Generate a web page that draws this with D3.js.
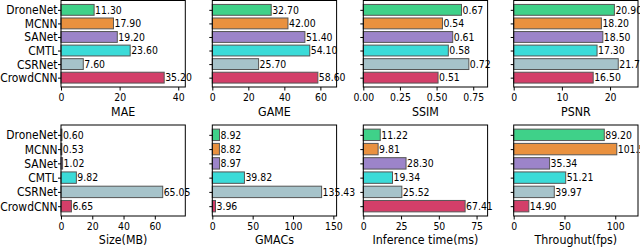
<!DOCTYPE html>
<html>
<head>
<meta charset="utf-8">
<script src="https://cdn.jsdelivr.net/npm/d3@7"></script>
<style>
  body { margin: 0; background: #fff; }
  svg text { font-family: "DejaVu Sans", sans-serif; fill: #000; }
</style>
</head>
<body>
<div id="chart"></div>
<script>
// models, top to bottom
var models = ["DroneNet", "MCNN", "SANet", "CMTL", "CSRNet", "CrowdCNN"]
var colors = ["#3fd189", "#e9913f", "#9c84c9", "#3bdbd8", "#a6c3ca", "#d33f69"]

// one array per metric
var mae = [11.30, 17.90, 19.20, 23.60, 7.60, 35.20]
var game = [32.70, 42.00, 51.40, 54.10, 25.70, 58.60]
var ssim = [0.67, 0.54, 0.61, 0.58, 0.72, 0.51]
var psnr = [20.90, 18.20, 18.50, 17.30, 21.70, 16.50]
var sizeMB = [0.60, 0.53, 1.02, 9.82, 65.05, 6.65]
var gmacs = [8.92, 8.82, 8.97, 39.82, 135.43, 3.96]
var infTime = [11.22, 9.81, 28.30, 19.34, 25.52, 67.41]
var throughput = [89.20, 101.50, 35.34, 51.21, 39.97, 14.90]

var titles = ["MAE", "GAME", "SSIM", "PSNR", "Size(MB)", "GMACs", "Inference time(ms)", "Throughut(fps)"]
var xMax = [42.4, 69, 0.848, 25.8, 79.5, 154, 82.3, 122.4]
var ticks = [[0, 20, 40], [0, 20, 40, 60], [0, 0.25, 0.5, 0.75], [0, 10, 20],
             [0, 20, 40, 60], [0, 50, 100, 150], [0, 25, 50, 75], [0, 50, 100]]
var tickFmt = [d3.format("d"), d3.format("d"), d3.format(".2f"), d3.format("d"),
               d3.format("d"), d3.format("d"), d3.format("d"), d3.format("d")]

var series = [mae, game, ssim, psnr, sizeMB, gmacs, infTime, throughput]

var width = 640, height = 247
var lefts = [61, 212.3, 363.3, 513.7]
var panelW = 124.3
var rows = [{top: 0.5, bottom: 87}, {top: 125, bottom: 216}]

// the original figure is squeezed horizontally, so text is too
var sx = 0.88
function squash(sel) {
  sel.attr("transform", "scale(" + sx + ",1)")
     .attr("x", function() { return (+d3.select(this).attr("x") || 0) / sx })
}

var svg = d3.select("#chart").append("svg")
    .attr("width", width)
    .attr("height", height)

series.forEach(function(vals, i) {
  var col = i % 4, row = Math.floor(i / 4)
  var x0 = lefts[col], y0 = rows[row].top, h = rows[row].bottom - rows[row].top

  var x = d3.scaleLinear().domain([0, xMax[i]]).range([0, panelW])
  // matplotlib-like padding: bars at integer positions, height 0.8
  var y = d3.scaleLinear().domain([-0.69, 5.69]).range([0, h])

  var g = svg.append("g").attr("transform", "translate(" + x0 + "," + y0 + ")")

  g.selectAll("rect.bar")
    .data(vals)
    .enter()
    .append("rect")
      .attr("class", "bar")
      .attr("x", x(0))
      .attr("y", function(d, j) { return y(j - 0.4) })
      .attr("width", function(d) { return x(d) - x(0) })
      .attr("height", y(0.4) - y(-0.4))
      .attr("fill", function(d, j) { return colors[j] })
      .attr("stroke", "#555")
      .attr("stroke-width", 1)

  g.selectAll("text.val")
    .data(vals)
    .enter()
    .append("text")
      .attr("class", "val")
      .attr("x", function(d) { return x(d) + 1 })
      .attr("y", function(d, j) { return y(j) })
      .attr("dy", "0.36em")
      .style("font-size", "10.6px")
      .text(function(d) { return d.toFixed(2) })
      .call(squash)

  // frame
  g.append("rect")
    .attr("width", panelW)
    .attr("height", h)
    .attr("fill", "none")
    .attr("stroke", "#000")
    .attr("stroke-width", 1)

  var xAxis = g.append("g")
    .attr("transform", "translate(0," + h + ")")
    .call(d3.axisBottom(x).tickValues(ticks[i]).tickFormat(tickFmt[i]).tickSize(3.5).tickPadding(3))
  xAxis.select(".domain").remove()
  xAxis.selectAll("text").style("font-size", "10.6px").call(squash)

  var yAxis = g.append("g")
    .call(d3.axisLeft(y).tickValues(d3.range(models.length)).tickSize(3).tickPadding(0.5)
      .tickFormat(function(d) { return col == 0 ? models[d] : "" }))
  yAxis.select(".domain").remove()
  yAxis.selectAll("text").style("font-size", "12.2px").call(squash)

  g.append("text")
    .attr("x", panelW / 2)
    .attr("y", h + (row == 0 ? 29 : 28.3))
    .attr("text-anchor", "middle")
    .style("font-size", "12.6px")
    .text(titles[i])
    .call(squash)
})
</script>
</body>
</html>
